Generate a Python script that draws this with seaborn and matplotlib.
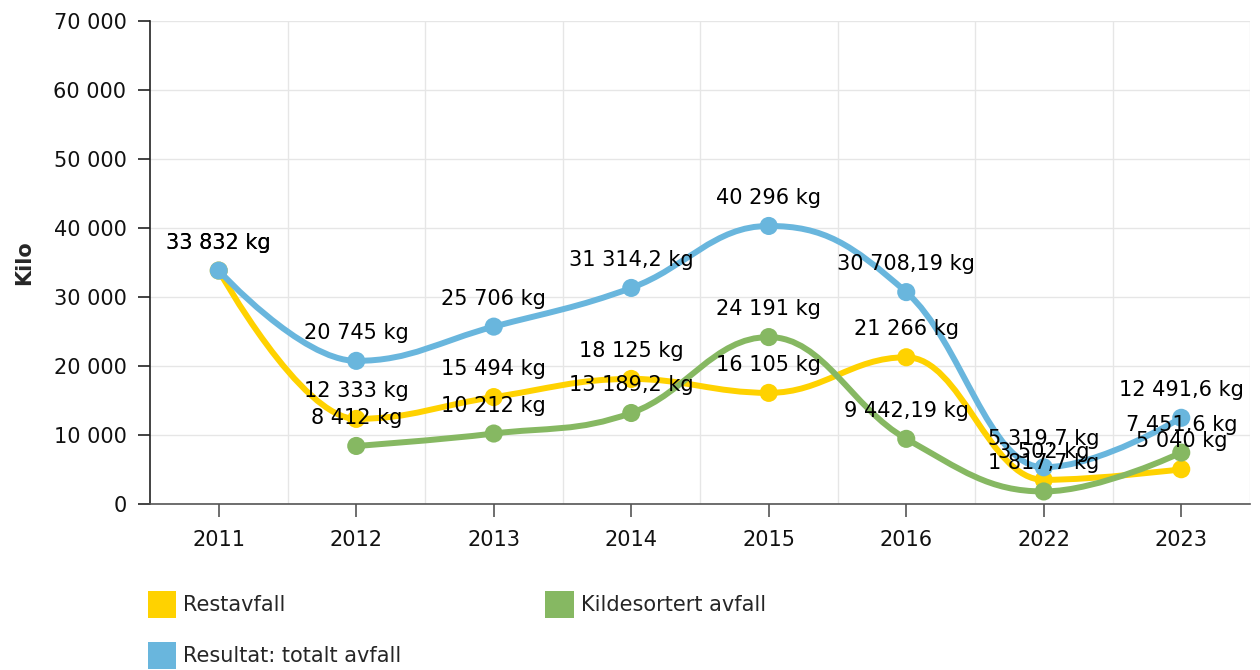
import numpy as np
import pandas as pd
import matplotlib
matplotlib.use("Agg")
import matplotlib.pyplot as plt
import seaborn as sns
from matplotlib.path import Path
from matplotlib.patches import PathPatch, Patch

years = ["2011", "2012", "2013", "2014", "2015", "2016", "2022", "2023"]
restavfall = [33832, 12333, 15494, 18125, 16105, 21266, 3502, 5040]
kildesortert = [None, 8412, 10212, 13189.2, 24191, 9442.19, 1817.7, 7451.6]
totalt = [33832, 20745, 25706, 31314.2, 40296, 30708.19, 5319.7, 12491.6]
series_names = ["Restavfall", "Kildesortert avfall", "Resultat: totalt avfall"]
series_values = [restavfall, kildesortert, totalt]
colors = ["#FFD200", "#86B862", "#69B6DD"]
y_ticks = [0, 10000, 20000, 30000, 40000, 50000, 60000, 70000]
y_label = "Kilo"

sns.set_theme(style="white")
plt.rcParams["font.family"] = ["DejaVu Sans"]

fig = plt.figure(figsize=(12.6, 6.7), dpi=100)
ax = fig.add_axes([150 / 1260, 1 - 504 / 670, 1100 / 1260, 483 / 670])

rows = []
for name, vals in zip(series_names, series_values):
    for i, (yr, v) in enumerate(zip(years, vals)):
        if v is not None:
            rows.append({"series": name, "x": i, "year": yr, "value": v})
df = pd.DataFrame(rows)


def spline_path(xs, ys, smoothing=1.5):
    n = len(xs)
    denom = smoothing + 1
    left = [None] * n
    right = [None] * n
    for i in range(1, n - 1):
        px, py = xs[i], ys[i]
        lx, ly = xs[i - 1], ys[i - 1]
        nx, ny = xs[i + 1], ys[i + 1]
        lcx = (smoothing * px + lx) / denom
        lcy = (smoothing * py + ly) / denom
        rcx = (smoothing * px + nx) / denom
        rcy = (smoothing * py + ny) / denom
        if rcx != lcx:
            corr = ((rcy - lcy) * (rcx - px)) / (rcx - lcx) + py - rcy
            lcy += corr
            rcy += corr
        if lcy > ly and lcy > py:
            lcy = max(ly, py); rcy = 2 * py - lcy
        elif lcy < ly and lcy < py:
            lcy = min(ly, py); rcy = 2 * py - lcy
        if rcy > ny and rcy > py:
            rcy = max(ny, py); lcy = 2 * py - rcy
        elif rcy < ny and rcy < py:
            rcy = min(ny, py); lcy = 2 * py - rcy
        left[i] = (lcx, lcy)
        right[i] = (rcx, rcy)
    verts = [(xs[0], ys[0])]
    codes = [Path.MOVETO]
    for i in range(1, n):
        c1 = right[i - 1] if right[i - 1] else (xs[i - 1], ys[i - 1])
        c2 = left[i] if left[i] else (xs[i], ys[i])
        verts += [c1, c2, (xs[i], ys[i])]
        codes += [Path.CURVE4] * 3
    return Path(verts, codes)


def fmt(v):
    s = repr(v) if isinstance(v, float) else str(v)
    ip, _, dp = s.partition(".")
    ip = f"{int(ip):,}".replace(",", " ")
    return ip + ("," + dp if dp else "") + " kg"


for k, (name, color) in enumerate(zip(series_names, colors)):
    sub = df[df["series"] == name]
    path = spline_path(sub["x"].tolist(), sub["value"].tolist())
    ax.add_patch(PathPatch(path, facecolor="none", edgecolor=color, lw=4.3,
                           capstyle="round", joinstyle="round", zorder=3 + k))
    sns.scatterplot(data=sub, x="x", y="value", color=color, s=170,
                    edgecolor="none", ax=ax, zorder=3.5 + k, legend=False)

for name, vals in zip(series_names, series_values):
    for i, (yr, v) in enumerate(zip(years, vals)):
        if v is None:
            continue
        ax.annotate(fmt(v), (i, v), xytext=(0, 28), textcoords="offset pixels",
                    ha="center", va="center", fontsize=15, color="#000000",
                    zorder=10)

ax.set_xlim(-0.5, len(years) - 0.5)
ax.set_ylim(0, 70000)
ax.set_yticks(y_ticks)
ax.set_yticklabels([f"{t:,}".replace(",", " ") for t in y_ticks], fontsize=15)
ax.set_xticks(range(len(years)))
ax.set_xticklabels(years, fontsize=15)
ax.set_xlabel("")
ax.set_ylabel(y_label, fontsize=15, fontweight="bold", labelpad=14)
ax.grid(False)
for t in y_ticks:
    ax.axhline(t, color="#E6E6E6", lw=1, zorder=0)
for xm in np.arange(0.5, len(years) - 0.5, 1.0):
    ax.axvline(xm, color="#E6E6E6", lw=1, zorder=0)
ax.axvline(len(years) - 0.5, color="#E6E6E6", lw=1, zorder=0)

for side in ["top", "right"]:
    ax.spines[side].set_visible(False)
ax.spines["left"].set_color("#222222")
ax.spines["left"].set_linewidth(1.2)
ax.spines["bottom"].set_color("#555555")
ax.spines["bottom"].set_linewidth(1.2)
ax.tick_params(axis="y", which="major", left=True, length=9, width=1.2,
               color="#222222", pad=8, labelcolor="#111111")
ax.tick_params(axis="x", which="major", bottom=True, length=9, width=1.2,
               color="#555555", pad=10, labelcolor="#111111")

handles = [Patch(facecolor=colors[0], edgecolor="none", label=series_names[0]),
           Patch(facecolor=colors[2], edgecolor="none", label=series_names[2]),
           Patch(facecolor=colors[1], edgecolor="none", label=series_names[1])]
fig.legend(handles=handles, loc="upper left",
           bbox_to_anchor=(148 / 1260, 1 - 591 / 670), ncol=2, frameon=False,
           fontsize=15, handlelength=1.35, handleheight=1.6, handletextpad=0.35,
           columnspacing=6.9, labelspacing=1.15, borderaxespad=0, borderpad=0)

fig.savefig("out.png", dpi=100)
